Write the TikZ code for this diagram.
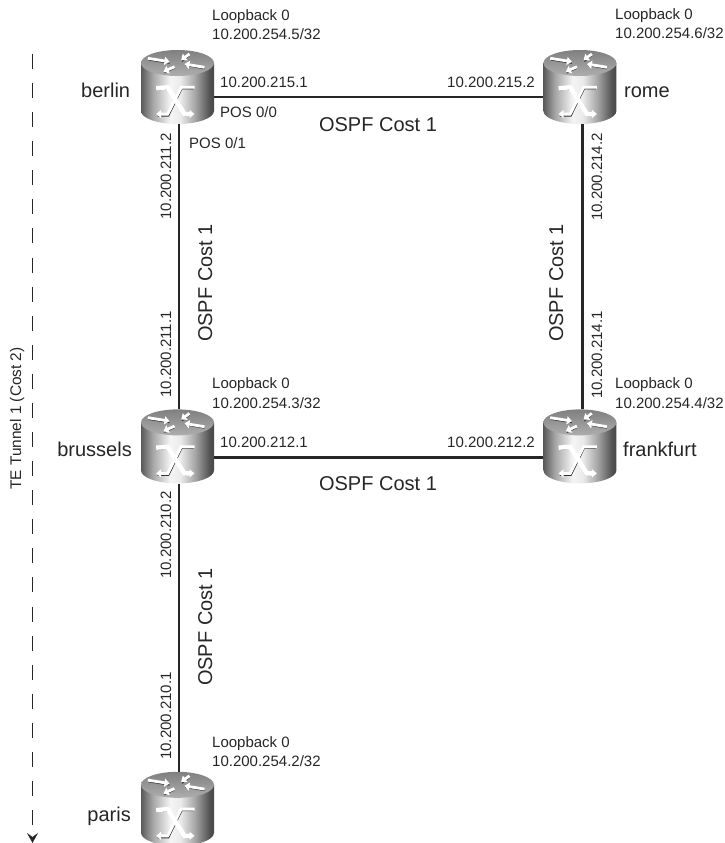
\documentclass[tikz,border=0pt]{standalone}
\usepackage{fontspec}
\setmainfont{Liberation Sans}
\usetikzlibrary{arrows.meta, positioning}

\pgfdeclarehorizontalshading{routerside}{100bp}{
  color(0bp)=(black!65); color(25bp)=(black!65); color(33bp)=(black!35);
  color(45bp)=(black!4); color(52bp)=(black!8); color(62bp)=(black!35);
  color(72bp)=(black!68); color(75bp)=(black!72); color(100bp)=(black!72)}

\tikzset{
  router/.style={rectangle, minimum width=73pt, minimum height=74pt, inner sep=0pt},
  link/.style={draw=black!85, line width=2.4pt},
  addr/.style={font=\fontsize{15}{15}\selectfont, text=black!85, inner sep=0pt},
  cost/.style={font=\fontsize{20}{20}\selectfont, text=black!85, inner sep=0pt},
  flow/.style={white, line width=2.8pt, -{Triangle[length=5pt,width=8pt]}},
  flowshadow/.style={black!80, line width=1pt},
}

\newcommand{\routerbody}[1]{
  \begin{scope}[shift={(#1.center)}, x=1pt, y=1pt]
    \shade[shading=routerside] (-36.5,24) -- (-36.5,-24)
      arc[start angle=180, end angle=360, x radius=36.5, y radius=13]
      -- (36.5,24) -- cycle;
    \shade[top color=black!50, bottom color=black!32] (0,24) ellipse[x radius=36.5, y radius=13];
    % arrows on the lid
    \draw[flowshadow] (-29,27) -- (-8,23.7);
    \draw[flowshadow] (12,31.5) -- (4.5,25.5);
    \draw[flowshadow] (27,18.2) -- (8,21.5);
    \draw[flowshadow] (-3,18.8) -- (-13,14);
    \draw[flow] (-29.7,28.7) -- (-8,25.3);
    \draw[flow] (12,33) -- (3.7,27);
    \draw[flow] (27,19.7) -- (7,23);
    \draw[flow] (-3,20.3) -- (-14,15.3);
    % crossed arrows on the side
    \draw[flowshadow] (-20,-2.8) -- (-9,-1.8) -- (8.4,-29);
    \draw[flowshadow] (16,-1.8) -- (4.5,-1.8) -- (-8.8,-29) -- (-20,-29);
    \draw[flow] (17,-.3) -- (3.7,-.3) -- (-9.7,-27) -- (-21.3,-27);
    \draw[flow, line width=4.4pt] (-21.3,-1.3) -- (-9.7,-.3) -- (7,-27) -- (17,-27);
  \end{scope}
}

\begin{document}
\begin{tikzpicture}[x=1pt, y=-1pt]
  \useasboundingbox (0,0) rectangle (725,843);
  \clip (0,0) rectangle (725,843);
  \node (berlin) [router] at (177.5,87) {};
  \node (rome) [router, right=329pt of berlin] {};
  \node (brussels) [router, below=285pt of berlin] {};
  \node (frankfurt) [router, right=329pt of brussels] {};
  \node (paris) [router, below=288pt of brussels] {};

  \draw[link] ([yshift=-10pt]berlin.east) -- ([yshift=-10pt]rome.west);
  \draw[link] ([yshift=-11pt]brussels.east) -- ([yshift=-11pt]frankfurt.west);
  \draw[link] ([xshift=1.5pt]berlin.south) -- ([xshift=1.5pt]brussels.north);
  \draw[link] ([xshift=1.5pt]brussels.south) -- ([xshift=1.5pt]paris.north);
  \draw[link] ([xshift=2.5pt]rome.south) -- ([xshift=2.5pt]frankfurt.north);

  \foreach \rname in {berlin, rome, brussels, frankfurt, paris} {
    \routerbody{\rname}
  }

  \coordinate (tunnelstart) at (32.5,54);
  \coordinate (tunnelend) at (32.5,843);
  \draw[black!85, line width=1pt, dash pattern=on 15pt off 14.08pt,
    -{Stealth[length=10pt, width=11pt, inset=4pt]}] (tunnelstart) -- (tunnelend);
  \node (tunnel) [addr, font=\fontsize{15.4}{15.4}\selectfont, rotate=90, anchor=base] at (21,418.5) {TE Tunnel 1 (Cost 2)};

  \node (berlinname) [cost, anchor=base west] at (81,97) {berlin};
  \node (romename) [cost, anchor=base west] at (624,97) {rome};
  \node (brusselsname) [cost, anchor=base east] at (132,456) {brussels};
  \node (frankfurtname) [cost, anchor=base west] at (623,456) {frankfurt};
  \node (parisname) [cost, anchor=base east] at (131,821) {paris};

  \node (lbberlin) [addr, anchor=base west] at (212,21) {Loopback 0};
  \node (ipberlin) [addr, anchor=base west] at (212,40) {10.200.254.5/32};
  \node (lbrome) [addr, anchor=base west] at (615,20) {Loopback 0};
  \node (iprome) [addr, anchor=base west] at (615,39) {10.200.254.6/32};
  \node (lbbrussels) [addr, anchor=base west] at (212,388) {Loopback 0};
  \node (ipbrussels) [addr, anchor=base west] at (212,408) {10.200.254.3/32};
  \node (lbfrankfurt) [addr, anchor=base west] at (615,388) {Loopback 0};
  \node (ipfrankfurt) [addr, anchor=base west] at (615,408) {10.200.254.4/32};
  \node (lbparis) [addr, anchor=base west] at (212,747) {Loopback 0};
  \node (ipparis) [addr, anchor=base west] at (212,766) {10.200.254.2/32};

  \node (posa) [addr, anchor=base west] at (220,117) {POS 0/0};
  \node (posb) [addr, anchor=base west] at (189,148) {POS 0/1};

  \node (ifa) [addr, anchor=base west] at (220,87) {10.200.215.1};
  \node (ifb) [addr, anchor=base east] at (535,87) {10.200.215.2};
  \node (ifc) [addr, anchor=base west] at (220,447) {10.200.212.1};
  \node (ifd) [addr, anchor=base east] at (535,447) {10.200.212.2};
  \node (ife) [addr, rotate=90, anchor=base east] at (171,133) {10.200.211.2};
  \node (iff) [addr, rotate=90, anchor=base east] at (171,311) {10.200.211.1};
  \node (ifg) [addr, rotate=90, anchor=base east] at (171,491) {10.200.210.2};
  \node (ifh) [addr, rotate=90, anchor=base east] at (171,672) {10.200.210.1};
  \node (ifi) [addr, rotate=90, anchor=base east] at (602,133) {10.200.214.2};
  \node (ifj) [addr, rotate=90, anchor=base east] at (602,311) {10.200.214.1};

  \node (costa) [cost, anchor=base] at (378,131) {OSPF Cost 1};
  \node (costb) [cost, anchor=base] at (378,490) {OSPF Cost 1};
  \node (costc) [cost, rotate=90, anchor=base] at (212,283) {OSPF Cost 1};
  \node (costd) [cost, rotate=90, anchor=base] at (563,283) {OSPF Cost 1};
  \node (coste) [cost, rotate=90, anchor=base] at (212,627) {OSPF Cost 1};
\end{tikzpicture}
\end{document}
